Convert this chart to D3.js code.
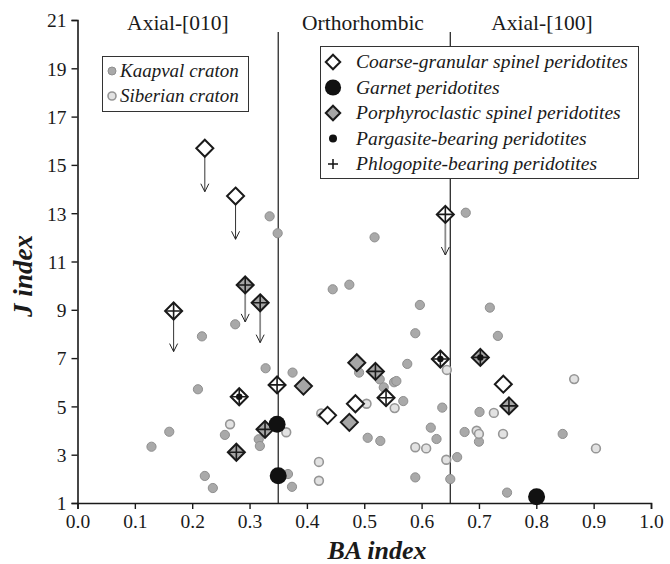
<!DOCTYPE html>
<html>
<head>
<meta charset="utf-8">
<script src="https://cdn.jsdelivr.net/npm/d3@7"></script>
<style>
  body { margin: 0; background: #fff; }
  svg text { font-family: "Liberation Serif", "Times New Roman", Times, serif; fill: #1a1a1a; }
</style>
</head>
<body>
<div id="chart"></div>
<script>
// Kaapval craton peridotites
var kaapvalBA = [0.275, 0.217, 0.328, 0.210, 0.160, 0.257, 0.129, 0.316, 0.318, 0.222, 0.236,
    0.335, 0.349, 0.518, 0.445, 0.474, 0.597, 0.589, 0.677, 0.719, 0.733, 0.375, 0.491, 0.527,
    0.534, 0.552, 0.556, 0.568, 0.575, 0.506, 0.528, 0.367, 0.374, 0.589, 0.616, 0.626, 0.636,
    0.662, 0.650, 0.675, 0.701, 0.700, 0.846, 0.749];
var kaapvalJ = [8.40, 7.90, 6.58, 5.71, 3.95, 3.82, 3.33, 3.64, 3.36, 2.12, 1.62,
    12.87, 12.17, 12.00, 9.85, 10.04, 9.20, 8.03, 13.02, 9.09, 7.92, 6.40, 6.40, 6.12,
    5.79, 6.00, 6.05, 5.22, 6.76, 3.70, 3.57, 2.20, 1.67, 2.06, 4.12, 3.65, 4.95,
    2.90, 1.99, 3.94, 4.77, 3.54, 3.86, 1.43];

// Siberian craton peridotites
var siberianBA = [0.266, 0.364, 0.553, 0.504, 0.425, 0.421, 0.421, 0.589, 0.608, 0.644, 0.643,
    0.866, 0.726, 0.696, 0.700, 0.742, 0.904];
var siberianJ = [4.26, 3.93, 4.93, 5.11, 4.71, 2.70, 1.92, 3.31, 3.26, 6.51, 2.79,
    6.13, 4.73, 3.99, 3.86, 3.86, 3.26];

// Samples of this study: texture + extra marks (p = pargasite, f = phlogopite)
var sampleBA = [0.222, 0.2756, 0.1676, 0.2924, 0.3185, 0.282, 0.277, 0.327, 0.348, 0.348, 0.350,
    0.394, 0.487, 0.5195, 0.538, 0.4846, 0.436, 0.474, 0.6414, 0.6327, 0.7024, 0.7425, 0.7523, 0.8005];
var sampleJ = [15.69, 13.71, 8.95, 10.03, 9.29, 5.40, 3.10, 4.05, 5.89, 4.26, 2.13,
    5.84, 6.81, 6.45, 5.36, 5.11, 4.63, 4.34, 12.95, 6.96, 7.03, 5.92, 5.02, 1.26];
var sampleType = ['coarse', 'coarse', 'coarse', 'porph', 'porph', 'coarse', 'porph', 'porph', 'coarse', 'garnet', 'garnet',
    'porph', 'porph', 'porph', 'coarse', 'coarse', 'coarse', 'porph', 'coarse', 'coarse', 'porph', 'coarse', 'porph', 'garnet'];
var sampleMarks = ['', '', 'f', 'f', 'f', 'fp', 'f', 'f', 'f', '', '',
    '', '', 'f', 'f', '', '', '', 'f', 'fp', 'fp', '', 'f', ''];
// arrows (upper-limit values): end J value, null = no arrow
var arrowTo = [13.89, 11.92, 7.27, 8.5, 7.64, null, null, null, null, null, null,
    null, null, null, null, null, null, null, 11.27, null, null, null, null, null];
var arrowGray = [false, false, false, true, true, false, false, false, false, false, false,
    false, false, false, false, false, false, false, true, false, false, false, false, false];

var xTicks = [0.0, 0.1, 0.2, 0.3, 0.4, 0.5, 0.6, 0.7, 0.8, 0.9, 1.0];
var yTicks = [1, 3, 5, 7, 9, 11, 13, 15, 17, 19, 21];
var fieldBounds = [0.35, 0.65];
var fieldNames = ['Axial-[010]', 'Orthorhombic', 'Axial-[100]'];
var fieldCenters = [0.175, 0.5, 0.81];

var serif = '"Liberation Serif", "Times New Roman", Times, serif';
var width = 670, height = 564;
var svg = d3.select('#chart').append('svg')
    .attr('width', width)
    .attr('height', height);

var x = d3.scaleLinear().domain([0, 1]).range([77.5, 651]);
var y = d3.scaleLinear().domain([1, 21]).range([503, 20]);

// field boundaries
svg.selectAll('line.field')
    .data(fieldBounds)
    .enter()
    .append('line')
    .attr('class', 'field')
    .attr('x1', function(d) { return x(d); })
    .attr('x2', function(d) { return x(d); })
    .attr('y1', 32)
    .attr('y2', y(1))
    .attr('stroke', '#1a1a1a')
    .attr('stroke-width', 1.2);

svg.selectAll('text.field')
    .data(fieldNames)
    .enter()
    .append('text')
    .attr('class', 'field')
    .attr('x', function(d, i) { return i == 1 ? 363 : x(fieldCenters[i]); })
    .attr('y', 30)
    .attr('text-anchor', 'middle')
    .attr('font-family', serif)
    .style('font-size', '21.5px')
    .text(function(d) { return d; });

// axes
var xAxis = svg.append('g')
    .attr('transform', 'translate(0,' + y(1) + ')')
    .call(d3.axisBottom(x).tickValues(xTicks).tickFormat(d3.format('.1f')).tickSize(6).tickPadding(4));
var yAxis = svg.append('g')
    .attr('transform', 'translate(' + x(0) + ',0)')
    .call(d3.axisLeft(y).tickValues(yTicks).tickSize(6).tickPadding(5));
[xAxis, yAxis].forEach(function(a) {
    a.attr('font-family', serif);
    a.select('.domain').attr('stroke', '#1a1a1a').attr('stroke-width', 1.6);
    a.selectAll('.tick line').attr('stroke', '#1a1a1a').attr('stroke-width', 1.4);
    a.selectAll('.tick text').style('font-size', '19.5px')
        .attr('font-family', serif).attr('fill', '#1a1a1a');
});
yAxis.selectAll('.tick text').attr('dy', '0.35em');
xAxis.selectAll('.tick text').attr('dy', '0.78em');

svg.append('text')
    .attr('transform', 'translate(32,276)rotate(-90)')
    .attr('text-anchor', 'middle')
    .attr('font-family', serif)
    .style('font-size', '27px')
    .style('font-weight', 'bold')
    .style('font-style', 'italic')
    .text('J index');

svg.append('text')
    .attr('x', 377)
    .attr('y', 559)
    .attr('text-anchor', 'middle')
    .attr('font-family', serif)
    .style('font-size', '26px')
    .style('font-weight', 'bold')
    .style('font-style', 'italic')
    .text('BA index');

// craton dots
var kaapval = d3.zip(kaapvalBA, kaapvalJ);
var siberian = d3.zip(siberianBA, siberianJ);

function kaapvalDot(sel) {
    sel.attr('r', 4.6).attr('fill', '#a9a9a9').attr('stroke', '#8f8f8f').attr('stroke-width', 1);
}
function siberianDot(sel) {
    sel.attr('r', 4.4).attr('fill', '#e2e2e2').attr('stroke', '#969696').attr('stroke-width', 1.6);
}

svg.append('g').selectAll('circle')
    .data(kaapval)
    .enter()
    .append('circle')
    .attr('cx', function(d) { return x(d[0]); })
    .attr('cy', function(d) { return y(d[1]); })
    .call(kaapvalDot);

svg.append('g').selectAll('circle')
    .data(siberian)
    .enter()
    .append('circle')
    .attr('cx', function(d) { return x(d[0]); })
    .attr('cy', function(d) { return y(d[1]); })
    .call(siberianDot);

// arrows
var samples = sampleBA.map(function(d, i) {
    return { ba: d, j: sampleJ[i], type: sampleType[i], marks: sampleMarks[i], to: arrowTo[i], gray: arrowGray[i] };
});

var arrows = svg.append('g').selectAll('g')
    .data(samples.filter(function(d) { return d.to != null; }))
    .enter()
    .append('g');
arrows.append('line')
    .attr('x1', function(d) { return x(d.ba); })
    .attr('x2', function(d) { return x(d.ba); })
    .attr('y1', function(d) { return y(d.j); })
    .attr('y2', function(d) { return y(d.to); })
    .attr('stroke', function(d) { return d.gray ? '#8a8a8a' : '#333'; })
    .attr('stroke-width', function(d) { return d.gray ? 1.8 : 1; });
arrows.append('path')
    .attr('d', function(d) {
        var px = x(d.ba), py = y(d.to);
        return 'M' + (px - 4) + ',' + (py - 8) + 'L' + px + ',' + py + 'L' + (px + 4) + ',' + (py - 8);
    })
    .attr('fill', 'none')
    .attr('stroke', '#222')
    .attr('stroke-width', 1);

// sample symbols
function drawSymbol(g, type, marks, s) {
    if (type == 'garnet') {
        g.append('circle').attr('r', 8.5 * s).attr('fill', '#111');
        return;
    }
    var h = 8.5 * s;
    g.append('path')
        .attr('d', 'M0,' + (-h) + 'L' + h + ',0L0,' + h + 'L' + (-h) + ',0Z')
        .attr('fill', type == 'porph' ? '#a6a6a6' : '#fff')
        .attr('stroke', '#1a1a1a')
        .attr('stroke-width', 2);
    if (marks.indexOf('f') >= 0) {
        g.append('path')
            .attr('d', 'M0,' + (-h) + 'V' + h + 'M' + (-h) + ',0H' + h)
            .attr('stroke', '#1a1a1a')
            .attr('stroke-width', 1.6);
    }
    if (marks.indexOf('p') >= 0) {
        g.append('circle').attr('r', 3.2 * s).attr('fill', '#111');
    }
}

svg.append('g').selectAll('g')
    .data(samples)
    .enter()
    .append('g')
    .attr('transform', function(d) { return 'translate(' + x(d.ba) + ',' + y(d.j) + ')'; })
    .each(function(d) { drawSymbol(d3.select(this), d.type, d.marks, 1); });

// legend: cratons
var leg1 = svg.append('g');
leg1.append('rect')
    .attr('x', 102.5).attr('y', 56.5).attr('width', 146).attr('height', 55)
    .attr('fill', '#fff').attr('stroke', '#333').attr('stroke-width', 1);
var craton = [['Kaapval craton', kaapvalDot], ['Siberian craton', siberianDot]];
craton.forEach(function(c, i) {
    leg1.append('circle').attr('cx', 112).attr('cy', 71 + i * 25).call(c[1]).attr('r', 4);
    leg1.append('text').attr('x', 120).attr('y', 71 + i * 25).attr('dy', '0.33em')
        .attr('font-family', serif)
        .style('font-size', '19px').style('font-style', 'italic').text(c[0]);
});

// legend: samples
var leg2 = svg.append('g');
leg2.append('rect')
    .attr('x', 320.5).attr('y', 46.5).attr('width', 318).attr('height', 132)
    .attr('fill', '#fff').attr('stroke', '#333').attr('stroke-width', 1);
var legendItems = ['Coarse-granular spinel peridotites', 'Garnet peridotites',
    'Porphyroclastic spinel peridotites', 'Pargasite-bearing peridotites', 'Phlogopite-bearing peridotites'];
legendItems.forEach(function(t, i) {
    var cy = 62 + i * 25.5;
    var g = leg2.append('g').attr('transform', 'translate(333,' + cy + ')');
    if (i == 0) drawSymbol(g, 'coarse', '', 0.85);
    if (i == 1) drawSymbol(g, 'garnet', '', 0.95);
    if (i == 2) drawSymbol(g, 'porph', '', 0.85);
    if (i == 3) g.append('circle').attr('r', 4).attr('fill', '#111');
    if (i == 4) g.append('path').attr('d', 'M0,-5V5M-5,0H5').attr('stroke', '#111').attr('stroke-width', 1.5);
    leg2.append('text').attr('x', 356).attr('y', cy).attr('dy', '0.33em')
        .attr('font-family', serif)
        .style('font-size', '19.5px').style('font-style', 'italic').text(t);
});
</script>
</body>
</html>
